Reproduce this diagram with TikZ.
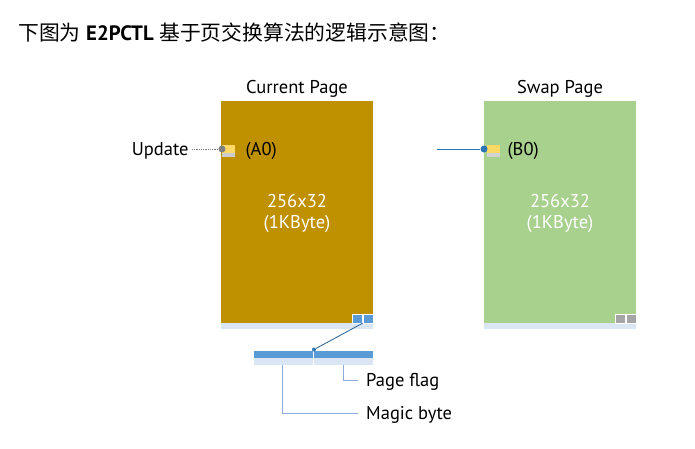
\documentclass[tikz,border=0pt]{standalone}
\usepackage{fontspec}
\setmainfont{PT Sans}
\newfontfamily\cjk{Noto Sans CJK SC}
\usetikzlibrary{positioning,calc}
\definecolor{curgold}{HTML}{BF9000}
\definecolor{swapgreen}{HTML}{A9D18E}
\definecolor{striplight}{HTML}{DAE6F4}
\definecolor{flagblue}{HTML}{5B9BD5}
\definecolor{flaggrey}{HTML}{A5A5A5}
\definecolor{markyellow}{HTML}{FFD966}
\definecolor{dotblue}{HTML}{2E75B6}
\definecolor{calloutline}{HTML}{8FAADC}
\begin{document}
\begin{tikzpicture}[x=1pt, y=-1pt,
  page/.style={rectangle, inner sep=0pt, minimum width=152pt, minimum height=222pt},
  strip/.style={rectangle, inner sep=0pt, fill=striplight, minimum width=152pt, minimum height=6pt},
  flagsq/.style={rectangle, inner sep=0pt, draw=white, line width=0.6pt, minimum width=10pt, minimum height=9pt},
  marker/.style={rectangle, inner sep=0pt, fill=markyellow, minimum width=13pt, minimum height=8pt},
  dotnode/.style={circle, inner sep=0pt, minimum size=7pt},
  lbl/.style={font=\fontsize{18.5}{21}\selectfont},
  intext/.style={font=\fontsize{18.5}{21}\selectfont, text=white},
  callout/.style={draw=calloutline, line width=0.7pt}]
  \useasboundingbox (0,0) rectangle (695,448);
  % title
  \node[anchor=west, inner sep=0pt, font=\fontsize{20.8}{24}\selectfont] (title) at (18,33)
    {{\cjk 下图为} \textbf{E2PCTL} {\cjk 基于页交换算法的逻辑示意图：}};
  % current page
  \node[page, fill=curgold] (cur) at (297,212) {};
  \node[strip, below=0pt of cur] (curstrip) {};
  \node[lbl, above=0pt of cur] (curT) {Current Page};
  \node[intext] (curA) at (297,201) {256x32};
  \node[intext] (curB) at (297,224) {(1KByte)};
  \node[flagsq, fill=flagblue, anchor=south east] (cf2) at (cur.south east) {};
  \node[flagsq, fill=flagblue, left=0pt of cf2] (cf1) {};
  \node[marker, anchor=west] (amark) at (222,149) {};
  \node[rectangle, inner sep=0pt, fill=gray!40, minimum width=13pt, minimum height=4pt,
    below=0pt of amark] (ashadow) {};
  \node[dotnode, fill=gray] (adot) at (222,149) {};
  \node[lbl, anchor=west] (a0) at (242,151) {(A0)};
  \node[lbl, anchor=east] (upd) at (192,151) {Update};
  \draw[gray, densely dotted, line width=0.8pt] (upd.east |- adot) -- (adot);
  % swap page
  \node[page, fill=swapgreen] (swp) at (560,212) {};
  \node[strip, below=0pt of swp] (swpstrip) {};
  \node[lbl, above=0pt of swp] (swpT) {Swap Page};
  \node[intext] (swpA) at (560,201) {256x32};
  \node[intext] (swpB) at (560,224) {(1KByte)};
  \node[flagsq, fill=flaggrey, anchor=south east] (sf2) at (swp.south east) {};
  \node[flagsq, fill=flaggrey, left=0pt of sf2] (sf1) {};
  \node[marker, anchor=west] (bmark) at (487,149) {};
  \node[rectangle, inner sep=0pt, fill=gray!35, minimum width=13pt, minimum height=4pt,
    below=0pt of bmark] (bshadow) {};
  \node[dotnode, fill=dotblue] (bdot) at (484,149) {};
  \node[lbl, anchor=west] (b0) at (504,151) {(B0)};
  \coordinate (bin) at (437,149);
  \draw[dotblue, line width=0.8pt] (bin) -- (bdot);
  % flag bytes
  \node[rectangle, inner sep=0pt, fill=flagblue, minimum width=119pt, minimum height=7pt] (bar) at (313.5,354) {};
  \node[rectangle, inner sep=0pt, fill=striplight, minimum width=119pt, minimum height=7pt, below=0pt of bar] (barstrip) {};
  \draw[white, line width=0.8pt] (bar.north -| 313,0) -- (barstrip.south -| 313,0);
  \node[circle, inner sep=0pt, minimum size=4pt, fill=dotblue] (bardot) at (314,349.5) {};
  \draw[dotblue!80!black, line width=0.8pt] (cf2.south west) -- (bardot);
  \node[lbl, anchor=west, inner xsep=8pt] (pflag) at (358,382) {Page flag};
  \node[lbl, anchor=west, inner xsep=8pt] (magic) at (358,415) {Magic byte};
  \draw[callout] (barstrip.south -| 343,0) |- ([yshift=2pt]pflag.west);
  \draw[callout] (barstrip.south -| 282,0) |- ([yshift=2pt]magic.west);
\end{tikzpicture}
\end{document}
